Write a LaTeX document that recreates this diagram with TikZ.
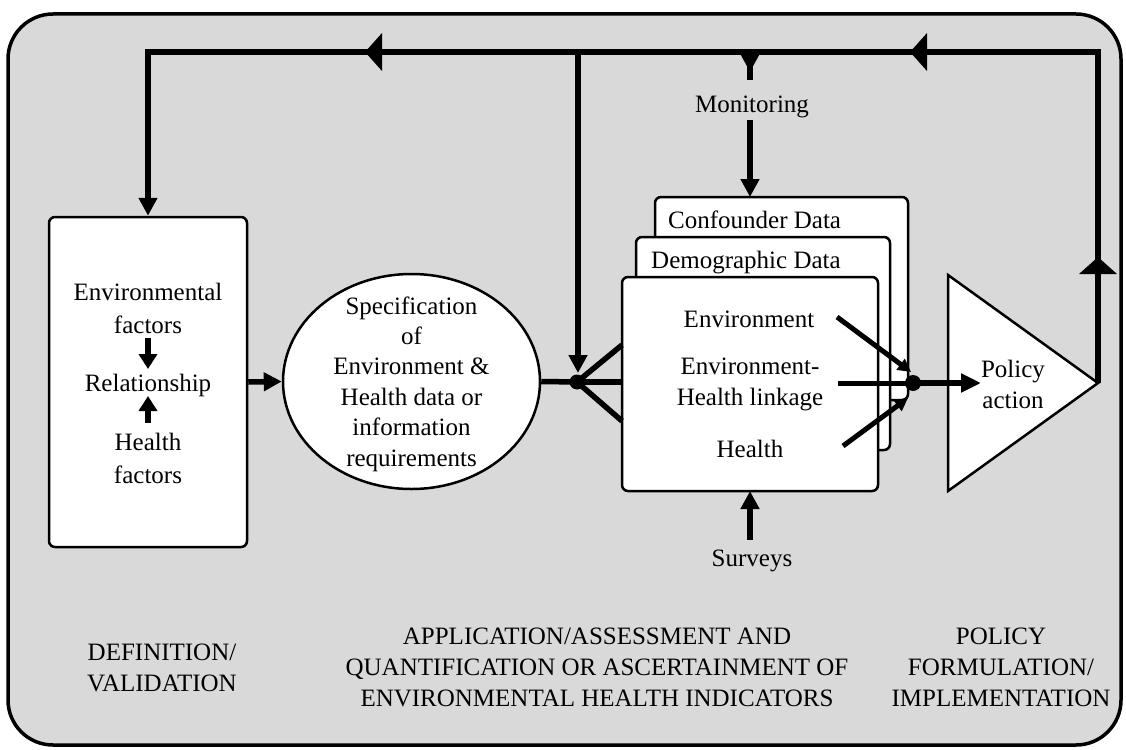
\documentclass[tikz,border=0pt]{standalone}
\usepackage{fontspec}
\setmainfont{Liberation Serif}
\usetikzlibrary{arrows.meta,shapes.geometric}
\definecolor{bggray}{RGB}{217,217,217}

\begin{document}
\begin{tikzpicture}[x=1pt,y=-1pt,
  every node/.style={font=\fontsize{25}{31}\selectfont, inner sep=0pt, align=center},
  oneline/.style={text height=17pt, text depth=0pt},
  panel/.style={draw, line width=2.5pt, fill=white, rounded corners=6pt},
  flow/.style={line width=5.5pt},
  inflow/.style={line width=5pt},
  bighead/.style={-{Triangle[length=17pt,width=37pt]}},
  midhead/.style={-{Triangle[length=18pt,width=18pt]}},
  smallhead/.style={-{Triangle[length=13pt,width=13pt]}},
]
\useasboundingbox (0,0) rectangle (1126,749);

% outer frame
\draw[line width=3.5pt, fill=bggray, rounded corners=45pt] (8,14) rectangle (1121,745);

% definition / validation box
\node[panel, minimum width=198pt, minimum height=330pt] (def) at (148,382) {};
\node[font=\fontsize{25}{33}\selectfont] (envf) at (148,308.5) {Environmental\\factors};
\node[oneline] (rel) at (148,383) {Relationship};
\node[font=\fontsize{25}{33}\selectfont] (hlthf) at (148,458.5) {Health\\factors};
\coordinate (ea) at (148,338);
\coordinate (eb) at (148,369);
\coordinate (ha) at (148,423);
\coordinate (hb) at (148,396);
\draw[line width=6pt, -{Triangle[length=15pt,width=18pt]}] (ea) -- (eb);
\draw[line width=6pt, -{Triangle[length=15pt,width=18pt]}] (ha) -- (hb);

% specification ellipse
\node[draw, ellipse, line width=2.5pt, fill=white, minimum width=257pt, minimum height=215pt] (spec) at (411.5,381.5) {};
\node[font=\fontsize{25}{30.4}\selectfont] (spectxt) at (411.5,384) {Specification\\of\\Environment \&\\Health data or\\information\\requirements};

\draw[flow, midhead] (def.east) -- (spec.west);

% stacked data boxes
\node[panel, minimum width=253pt, minimum height=203pt] (conf) at (781.5,298.5) {};
\node[oneline, anchor=west] (conftxt) at (668,220) {Confounder Data};
\node[panel, minimum width=254pt, minimum height=213pt] (demo) at (763,343.5) {};
\node[oneline, anchor=west] (demotxt) at (651,260) {Demographic Data};
\node[panel, minimum width=256pt, minimum height=214pt] (front) at (750,384) {};
\node[oneline] (envtxt) at (749,319) {Environment};
\node (linktxt) at (750,384.5) {Environment-\\Health linkage};
\node[oneline] (healthtxt) at (750,449) {Health};

% policy triangle
\coordinate (tl1) at (948,275);
\coordinate (apex) at (1098,383);
\coordinate (tl2) at (948,491);
\draw[line width=2.5pt, fill=white] (tl1) -- (apex) -- (tl2) -- cycle;
\node (policy) at (1013,384) {Policy\\action};

% feedback loop along the top
\coordinate (tr) at (1098,52);
\coordinate (tlc) at (148,52);
\draw[flow, midhead] (apex) -- (tr) -- (tlc) -- (def.north);
\coordinate (upa) at (1098,292);
\coordinate (upb) at (1098,257);
\draw[flow, bighead] (upa) -- (upb);
\coordinate (ra) at (950,52);
\coordinate (rb) at (910,52);
\draw[flow, bighead] (ra) -- (rb);
\coordinate (la) at (400,52);
\coordinate (lb) at (365,52);
\draw[flow, bighead] (la) -- (lb);

% junction feeding the data boxes
\coordinate (j) at (577,382);
\coordinate (jt) at (578,52);
\coordinate (jtip) at (578,373);
\draw[flow, midhead] (jt) -- (jtip);
\draw[flow] (spec.east) -- (j);
\coordinate (f1) at (622,345);
\coordinate (f2) at (622,382);
\coordinate (f3) at (622,421);
\draw[flow] (j) -- (f1);
\draw[flow] (j) -- (f2);
\draw[flow] (j) -- (f3);
\fill (j) circle (7.5pt);

% monitoring
\node[oneline] (mon) at (752,104) {Monitoring};
\coordinate (ma) at (750,52);
\coordinate (mb) at (750,80);
\coordinate (mc) at (750,56);
\coordinate (md) at (750,72);
\draw[flow] (ma) -- (mb);
\draw[flow, midhead] (mc) -- (md);
\coordinate (me) at (750,120);
\coordinate (mf) at (750,197);
\draw[flow, midhead] (me) -- (mf);

% surveys
\node[oneline] (sur) at (752,558) {Surveys};
\coordinate (sa) at (750,540);
\coordinate (sb) at (750,491);
\draw[flow, midhead] (sa) -- (sb);

% links converging on the policy action
\coordinate (pd) at (913,383);
\coordinate (e1) at (837,317);
\coordinate (e1t) at (911,372);
\coordinate (e2) at (838,383);
\coordinate (e3) at (843,446);
\coordinate (e3t) at (908,398);
\draw[inflow, smallhead] (e1) -- (e1t);
\draw[inflow] (e2) -- (pd);
\draw[inflow, smallhead] (e3) -- (e3t);
\fill (pd) circle (8pt);
\coordinate (pt) at (981,383);
\draw[flow, -{Triangle[length=20pt,width=18pt]}] (pd) -- (pt);

% stage labels
\node (stage1) at (162,667.5) {DEFINITION/\\VALIDATION};
\node (stage2) at (597,667.5) {APPLICATION/ASSESSMENT AND\\QUANTIFICATION OR ASCERTAINMENT OF\\ENVIRONMENTAL HEALTH INDICATORS};
\node (stage3) at (1001,667.5) {POLICY\\FORMULATION/\\IMPLEMENTATION};
\end{tikzpicture}
\end{document}
